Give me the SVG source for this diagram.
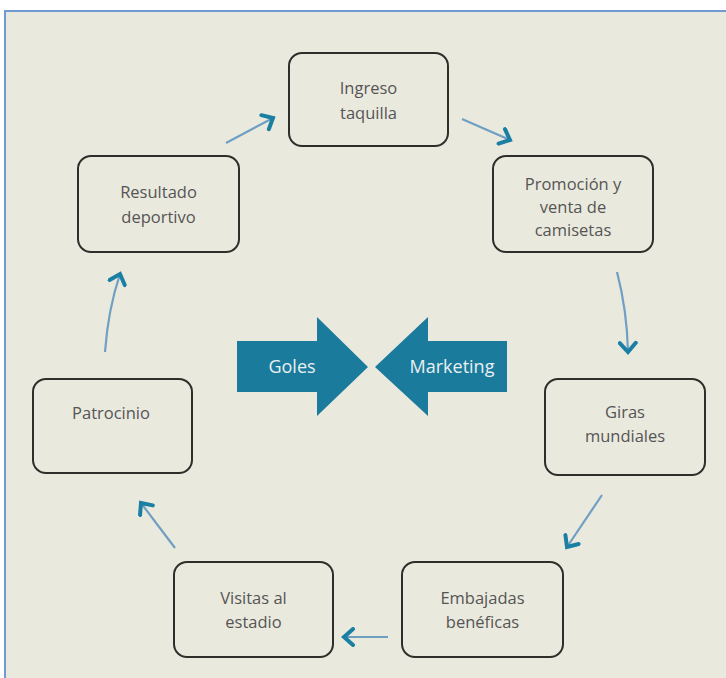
<svg xmlns="http://www.w3.org/2000/svg" width="726" height="678" viewBox="0 0 726 678">
<defs>
<style>
.node rect{fill:#eae9de;stroke:#2e2e2a;stroke-width:2}
.node text{font-family:"Open Sans","Noto Sans",sans-serif;font-size:16.5px;fill:#555;text-anchor:middle}
.conn path{fill:none;stroke:#6f9fc3;stroke-width:2.2}
.big{fill:#1b7b9c}
.bigt{font-family:"Open Sans","Noto Sans",sans-serif;font-size:18px;fill:#e8f0f2;text-anchor:middle}
</style>
<marker id="ah" markerUnits="userSpaceOnUse" markerWidth="20" markerHeight="20" refX="12" refY="10" orient="auto">
<path d="M3,2 L12,10 L3,18" fill="none" stroke="#1b7fa3" stroke-width="4" stroke-linecap="round" stroke-linejoin="miter"/>
</marker>
</defs>
<rect x="0" y="0" width="726" height="678" fill="#ffffff"/>
<rect x="5" y="11" width="730" height="680" fill="#eae9de" stroke="#6f9ad2" stroke-width="2"/>

<g id="goles">
<polygon class="big" points="237,341 317,341 317,317 368,367 317,416 317,392 237,392"/>
<text class="bigt" x="292" y="373">Goles</text>
</g>
<g id="marketing">
<polygon class="big" points="507,341 428,341 428,317 375,367 428,416 428,392 507,392"/>
<text class="bigt" x="452" y="373">Marketing</text>
</g>

<g id="ingreso" class="node">
<rect x="289" y="53" width="159" height="93" rx="13"/>
<text x="368.5" y="94">Ingreso</text>
<text x="368.5" y="119">taquilla</text>
</g>
<g id="promocion" class="node">
<rect x="493" y="156" width="160" height="96" rx="13"/>
<text x="573" y="190">Promoción y</text>
<text x="573" y="213">venta de</text>
<text x="573" y="236">camisetas</text>
</g>
<g id="giras" class="node">
<rect x="545" y="379" width="160" height="96" rx="13"/>
<text x="625" y="418">Giras</text>
<text x="625" y="442">mundiales</text>
</g>
<g id="embajadas" class="node">
<rect x="402" y="562" width="161" height="95" rx="13"/>
<text x="482.5" y="604">Embajadas</text>
<text x="482.5" y="628">benéficas</text>
</g>
<g id="visitas" class="node">
<rect x="174" y="562" width="159" height="95" rx="13"/>
<text x="253.5" y="604">Visitas al</text>
<text x="253.5" y="628">estadio</text>
</g>
<g id="patrocinio" class="node">
<rect x="33" y="379" width="159" height="94" rx="13"/>
<text x="111" y="419">Patrocinio</text>
</g>
<g id="resultado" class="node">
<rect x="78" y="156" width="161" height="96" rx="13"/>
<text x="158.5" y="198">Resultado</text>
<text x="158.5" y="223">deportivo</text>
</g>

<g id="connectors" class="conn">
<path d="M226,143 L273,118" marker-end="url(#ah)"/>
<path d="M462,119 L510,140" marker-end="url(#ah)"/>
<path d="M617,272 Q627,310 628,352" marker-end="url(#ah)"/>
<path d="M602,495 L567,547" marker-end="url(#ah)"/>
<path d="M388,637 L344,637" marker-end="url(#ah)"/>
<path d="M175,548 L141,503" marker-end="url(#ah)"/>
<path d="M105,352 Q108,310 120,274" marker-end="url(#ah)"/>
</g>
</svg>
